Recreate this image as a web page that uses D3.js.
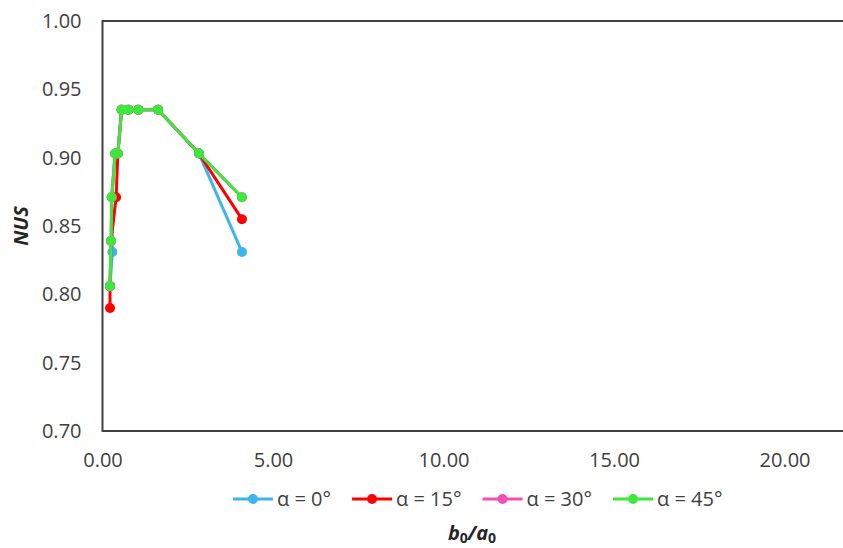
<!DOCTYPE html>
<html>
<head>
<meta charset="utf-8">
<script src="https://cdn.jsdelivr.net/npm/d3@7"></script>
<style>
  html, body { margin: 0; padding: 0; background: #fff; }
  svg { display: block; font-family: "Open Sans", "Liberation Sans", sans-serif; }
</style>
</head>
<body>
<svg id="chart" width="843" height="548"></svg>
<script>
// ---- data ----
const seriesNames = ["α = 0°", "α = 15°", "α = 30°", "α = 45°"];
const xTickValues = [0, 5, 10, 15, 20];
const yTickValues = [0.70, 0.75, 0.80, 0.85, 0.90, 0.95, 1.00];

const b0a0_alpha0  = [0.22, 0.29, 0.27, 0.37, 0.45, 0.56, 0.76, 1.05, 1.63, 2.83, 4.09];
const nus_alpha0   = [0.806, 0.831, 0.871, 0.903, 0.903, 0.935, 0.935, 0.935, 0.935, 0.903, 0.831];

const b0a0_alpha15 = [0.22, 0.22, 0.25, 0.40, 0.45, 0.56, 0.76, 1.05, 1.63, 2.83, 4.09];
const nus_alpha15  = [0.790, 0.806, 0.839, 0.871, 0.903, 0.935, 0.935, 0.935, 0.935, 0.903, 0.855];

const b0a0_alpha30 = [0.22, 0.25, 0.27, 0.37, 0.45, 0.56, 0.76, 1.05, 1.63, 2.83, 4.09];
const nus_alpha30  = [0.806, 0.839, 0.871, 0.903, 0.903, 0.935, 0.935, 0.935, 0.935, 0.903, 0.871];

const b0a0_alpha45 = [0.22, 0.25, 0.27, 0.37, 0.45, 0.56, 0.76, 1.05, 1.63, 2.83, 4.09];
const nus_alpha45  = [0.806, 0.839, 0.871, 0.903, 0.903, 0.935, 0.935, 0.935, 0.935, 0.903, 0.871];

// ---- styles ----
const colors = ["#3DB4F0", "#FF0000", "#F24FB6", "#3CE83C"];

(function () {
const series = [
  { name: seriesNames[0], xs: b0a0_alpha0,  ys: nus_alpha0,  color: colors[0] },
  { name: seriesNames[1], xs: b0a0_alpha15, ys: nus_alpha15, color: colors[1] },
  { name: seriesNames[2], xs: b0a0_alpha30, ys: nus_alpha30, color: colors[2] },
  { name: seriesNames[3], xs: b0a0_alpha45, ys: nus_alpha45, color: colors[3] }
].map(s => ({ ...s, points: s.xs.map((x, i) => ({ x, y: s.ys[i] })) }));

const svg = d3.select("#chart");
const plotLeft = 102.5, plotTop = 21, plotBottom = 431;
const x = d3.scaleLinear().domain([0, 25]).range([plotLeft, plotLeft + 25 * 34.1]);
const y = d3.scaleLinear().domain([0.70, 1.00]).range([plotBottom, plotTop]);

// frame
svg.append("rect")
  .attr("x", x(0)).attr("y", y(1.0))
  .attr("width", x(25) - x(0)).attr("height", y(0.70) - y(1.0))
  .attr("fill", "none").attr("stroke", "#404040").attr("stroke-width", 2);

// axes
const fmt = d3.format(".2f");
const xAxis = svg.append("g").attr("transform", `translate(0,${plotBottom})`)
  .call(d3.axisBottom(x).tickValues(xTickValues).tickFormat(fmt).tickSize(0).tickPadding(22));
const yAxis = svg.append("g").attr("transform", `translate(${plotLeft},0)`)
  .call(d3.axisLeft(y).tickValues(yTickValues).tickFormat(fmt).tickSize(0).tickPadding(21));
[xAxis, yAxis].forEach(g => {
  g.select(".domain").remove();
  g.selectAll("text").attr("font-size", 20).attr("fill", "#404040")
    .attr("font-family", "'Open Sans', sans-serif");
});

// lines + markers
const line = d3.line().x(d => x(d.x)).y(d => y(d.y));
const sg = svg.append("g");
series.forEach(s => {
  sg.append("path").datum(s.points)
    .attr("d", line).attr("fill", "none")
    .attr("stroke", s.color).attr("stroke-width", 3).attr("stroke-linejoin", "round");
  sg.selectAll(null).data(s.points).enter().append("circle")
    .attr("cx", d => x(d.x)).attr("cy", d => y(d.y)).attr("r", 5)
    .attr("fill", s.color);
});

// axis titles
svg.append("text")
  .attr("transform", `translate(28,226) rotate(-90)`)
  .attr("text-anchor", "middle")
  .attr("font-size", 20).attr("font-weight", "bold").attr("font-style", "italic")
  .attr("fill", "#262626").text("NUS");

const xt = svg.append("text").attr("x", 472).attr("y", 540)
  .attr("text-anchor", "middle").attr("font-size", 20).attr("font-weight", "bold")
  .attr("fill", "#262626");
xt.append("tspan").attr("font-style", "italic").text("b");
xt.append("tspan").attr("font-size", 14).attr("dy", 3).text("0");
xt.append("tspan").attr("font-style", "italic").attr("dy", -3).text("/a");
xt.append("tspan").attr("font-size", 14).attr("dy", 3).text("0");

// legend
const legend = svg.append("g").attr("transform", "translate(233,499)");
let lx = 0;
series.forEach(s => {
  const g = legend.append("g").attr("transform", `translate(${lx},0)`);
  g.append("line").attr("x1", 0).attr("x2", 40).attr("y1", 0).attr("y2", 0)
    .attr("stroke", s.color).attr("stroke-width", 3);
  g.append("circle").attr("cx", 20).attr("cy", 0).attr("r", 5).attr("fill", s.color);
  const t = g.append("text").attr("x", 44).attr("y", 0).attr("dy", "0.35em")
    .attr("font-size", 20).attr("fill", "#404040").text(s.name);
  const w = t.node().getComputedTextLength();
  lx += 44 + w + 21;
});
})();
</script>
</body>
</html>
